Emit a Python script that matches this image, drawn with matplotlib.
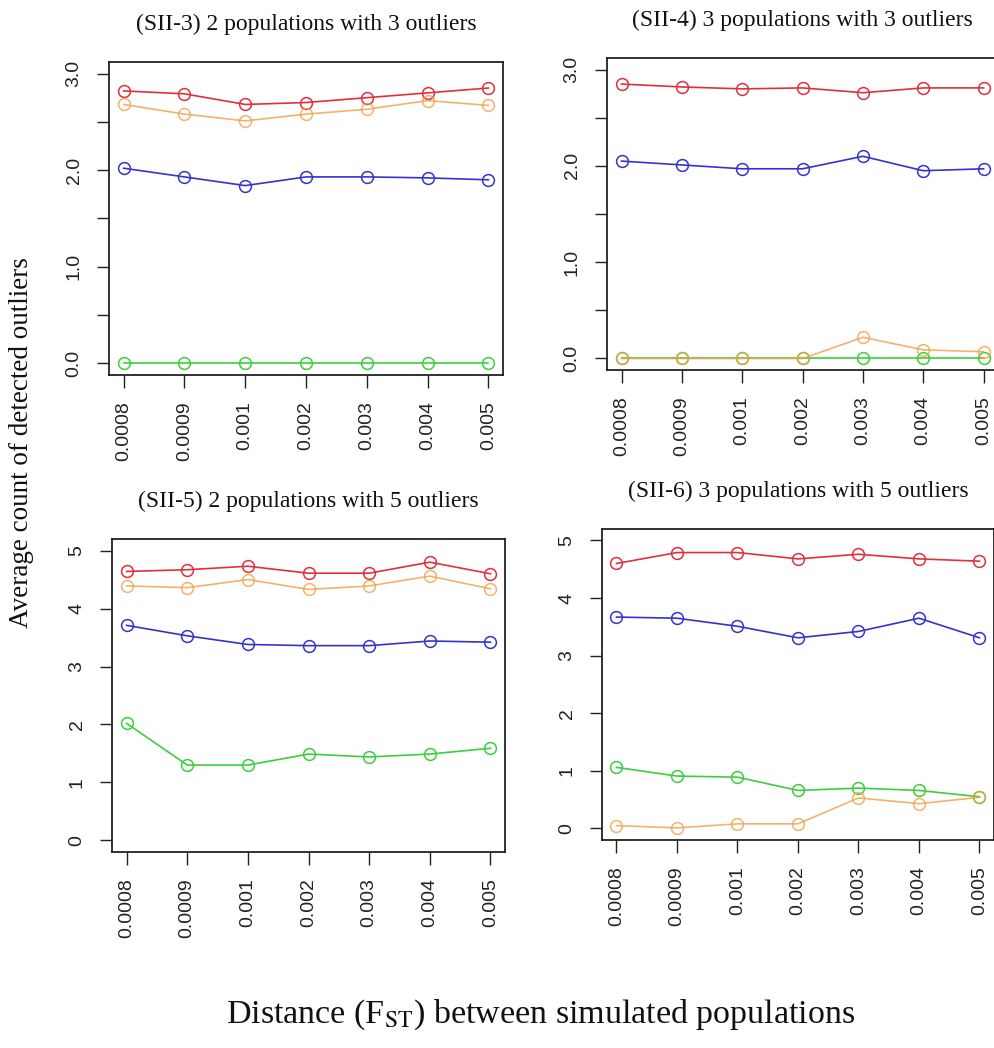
import matplotlib
matplotlib.use("Agg")
import matplotlib.pyplot as plt

plt.rcParams["font.family"] = ["Liberation Sans", "DejaVu Sans"]
plt.rcParams["mathtext.fontset"] = "stix"

# x categories: distance (FST) between simulated populations
fst_labels = ["0.0008", "0.0009", "0.001", "0.002", "0.003", "0.004", "0.005"]

# (SII-3) 2 populations with 3 outliers
sii3_red = [2.82, 2.79, 2.68, 2.70, 2.75, 2.80, 2.85]
sii3_orange = [2.68, 2.58, 2.51, 2.58, 2.63, 2.72, 2.67]
sii3_blue = [2.02, 1.93, 1.84, 1.93, 1.93, 1.92, 1.90]
sii3_green = [0.0, 0.0, 0.0, 0.0, 0.0, 0.0, 0.0]

# (SII-4) 3 populations with 3 outliers
sii4_red = [2.85, 2.82, 2.80, 2.81, 2.76, 2.81, 2.81]
sii4_orange = [0.0, 0.0, 0.0, 0.0, 0.22, 0.09, 0.07]
sii4_blue = [2.05, 2.01, 1.97, 1.97, 2.10, 1.95, 1.97]
sii4_green = [0.0, 0.0, 0.0, 0.0, 0.0, 0.0, 0.0]

# (SII-5) 2 populations with 5 outliers
sii5_red = [4.64, 4.67, 4.73, 4.61, 4.61, 4.80, 4.60]
sii5_orange = [4.39, 4.36, 4.50, 4.33, 4.39, 4.56, 4.34]
sii5_blue = [3.71, 3.53, 3.38, 3.36, 3.36, 3.44, 3.42]
sii5_green = [2.02, 1.30, 1.30, 1.49, 1.44, 1.49, 1.59]

# (SII-6) 3 populations with 5 outliers
sii6_red = [4.60, 4.79, 4.79, 4.68, 4.76, 4.68, 4.64]
sii6_orange = [0.05, 0.01, 0.08, 0.08, 0.53, 0.43, 0.54]
sii6_blue = [3.67, 3.65, 3.51, 3.31, 3.42, 3.65, 3.31]
sii6_green = [1.06, 0.91, 0.89, 0.66, 0.70, 0.66, 0.55]

titles = ["(SII-3) 2 populations with 3 outliers",
          "(SII-4) 3 populations with 3 outliers",
          "(SII-5) 2 populations with 5 outliers",
          "(SII-6) 3 populations with 5 outliers"]

RED, ORANGE, BLUE, GREEN = "#e0303c", "#f0a048", "#3434cc", "#3ccf3c"

panels = [
    dict(title=titles[0], pos=[0.1097, 0.6422, 0.3964, 0.2987], ymax=3,
         series=[(sii3_red, RED), (sii3_blue, BLUE), (sii3_green, GREEN), (sii3_orange, ORANGE)]),
    dict(title=titles[1], pos=[0.6107, 0.6469, 0.3934, 0.2977], ymax=3,
         series=[(sii4_red, RED), (sii4_blue, BLUE), (sii4_green, GREEN), (sii4_orange, ORANGE)]),
    dict(title=titles[2], pos=[0.1127, 0.1870, 0.3954, 0.2987], ymax=5,
         series=[(sii5_red, RED), (sii5_blue, BLUE), (sii5_green, GREEN), (sii5_orange, ORANGE)]),
    dict(title=titles[3], pos=[0.6056, 0.1985, 0.3944, 0.2968], ymax=5,
         series=[(sii6_red, RED), (sii6_blue, BLUE), (sii6_green, GREEN), (sii6_orange, ORANGE)]),
]

fig = plt.figure(figsize=(9.94, 10.48), dpi=100)
xs = list(range(1, len(fst_labels) + 1))

for p in panels:
    ax = fig.add_axes(p["pos"])
    for vals, col in p["series"]:
        a = 0.8 if col == ORANGE else 1.0
        ax.plot(xs, vals, color=col, lw=1.2, marker="o", ms=8.5,
                mfc="none", mec=col, mew=1.1, alpha=a)

    # R-style 4% padding
    ax.set_xlim(1 - 0.04 * 6, 7 + 0.04 * 6)
    ymax = p["ymax"]
    ax.set_ylim(-0.04 * ymax, ymax * 1.04)

    ax.set_xticks(xs)
    ax.set_xticklabels(fst_labels, rotation=90, va="top", ha="center")
    if ymax == 3:
        ticks = [i * 0.5 for i in range(7)]
        labels = [f"{t:.1f}" if t == int(t) else "" for t in ticks]
    else:
        ticks = list(range(6))
        labels = [str(t) for t in ticks]
    ax.set_yticks(ticks)
    ax.set_yticklabels(labels, rotation=90, va="center")

    ax.tick_params(direction="out", length=9, width=1.0, labelsize=14,
                   colors="#222222", pad=10)
    for sp in ax.spines.values():
        sp.set_linewidth(1.3)
        sp.set_color("#222222")

    ax.set_title(p["title"], family=["Liberation Serif"], fontsize=17,
                 pad=23, color="#111111")

fig.text(22 / 994, 1 - 443 / 1048, "Average count of detected outliers",
         rotation=90, ha="center", va="center", family=["Liberation Serif"],
         fontsize=19.5, color="#111111")
fig.text(541 / 994, 1 - 1015 / 1048,
         r"Distance (F$_{\mathrm{ST}}$) between simulated populations",
         ha="center", va="center", family=["Liberation Serif"],
         fontsize=24.5, color="#111111")

fig.savefig("out.png", dpi=100, facecolor="white")
